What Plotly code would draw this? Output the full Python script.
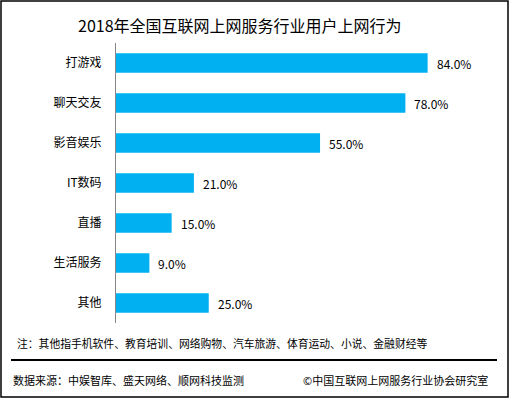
import plotly.graph_objects as go

categories = ["打游戏", "聊天交友", "影音娱乐", "IT数码", "直播", "生活服务", "其他"]
values = [84.0, 78.0, 55.0, 21.0, 15.0, 9.0, 25.0]
labels = [f"{v:.1f}%" for v in values]

title = "2018年全国互联网上网服务行业用户上网行为"
note = "注：其他指手机软件、教育培训、网络购物、汽车旅游、体育运动、小说、金融财经等"
source = "数据来源：中娱智库、盛天网络、顺网科技监测"
copyright_text = "©中国互联网上网服务行业协会研究室"

W, H = 509, 398
L, R, T, B = 116, 22, 43, 75
PW, PH = W - L - R, H - T - B
FONT = "Noto Sans CJK SC"


def px(x):
    return (x - L) / PW


def py(y):
    return 1 - (y - T) / PH


fig = go.Figure(
    go.Bar(
        x=values,
        y=categories,
        orientation="h",
        marker=dict(color="#00B0F0", line=dict(width=0)),
        width=0.49,
        hoverinfo="skip",
    )
)

value_annotations = [
    dict(text=lab, x=v, y=c, xref="x", yref="y", showarrow=False,
         xanchor="left", yanchor="middle", xshift=7,
         font=dict(size=12, family=FONT, color="#000000"))
    for c, v, lab in zip(categories, values, labels)
]

fig.update_layout(
    width=W,
    height=H,
    margin=dict(l=L, r=R, t=T, b=B, autoexpand=False),
    paper_bgcolor="white",
    plot_bgcolor="white",
    showlegend=False,
    font=dict(family=FONT, size=12, color="#000000"),
    xaxis=dict(range=[0, 100], visible=False, fixedrange=True, automargin=False),
    yaxis=dict(
        autorange="reversed",
        showline=True,
        linecolor="#868686",
        linewidth=1,
        ticks="",
        showgrid=False,
        ticklabelstandoff=11,
        automargin=False,
        tickfont=dict(size=12, family=FONT, color="#000000"),
        fixedrange=True,
    ),
    annotations=value_annotations + [
        dict(text=title, x=px(240), y=py(25), xref="paper", yref="paper",
             showarrow=False, xanchor="center", yanchor="middle",
             font=dict(size=16, family=FONT, color="#000000")),
        dict(text=note, x=px(15), y=py(343), xref="paper", yref="paper",
             showarrow=False, xanchor="left", yanchor="middle",
             font=dict(size=10.8, family=FONT, color="#000000")),
        dict(text=source, x=px(11), y=py(380), xref="paper", yref="paper",
             showarrow=False, xanchor="left", yanchor="middle",
             font=dict(size=11, family=FONT, color="#000000")),
        dict(text=copyright_text, x=px(490), y=py(380), xref="paper", yref="paper",
             showarrow=False, xanchor="right", yanchor="middle",
             font=dict(size=11, family=FONT, color="#000000")),
    ],
    shapes=[
        dict(type="line", xref="paper", yref="paper",
             x0=px(11), x1=px(497), y0=py(360), y1=py(360),
             line=dict(color="#000000", width=2)),
        dict(type="rect", xref="paper", yref="paper",
             x0=px(1), x1=px(508), y0=py(1), y1=py(397),
             line=dict(color="#000000", width=1.5), layer="above"),
    ],
)

fig.write_html(
    "out.html",
    config={"displayModeBar": False},
    post_script="document.body.style.margin='0';document.body.style.overflow='hidden';",
)
